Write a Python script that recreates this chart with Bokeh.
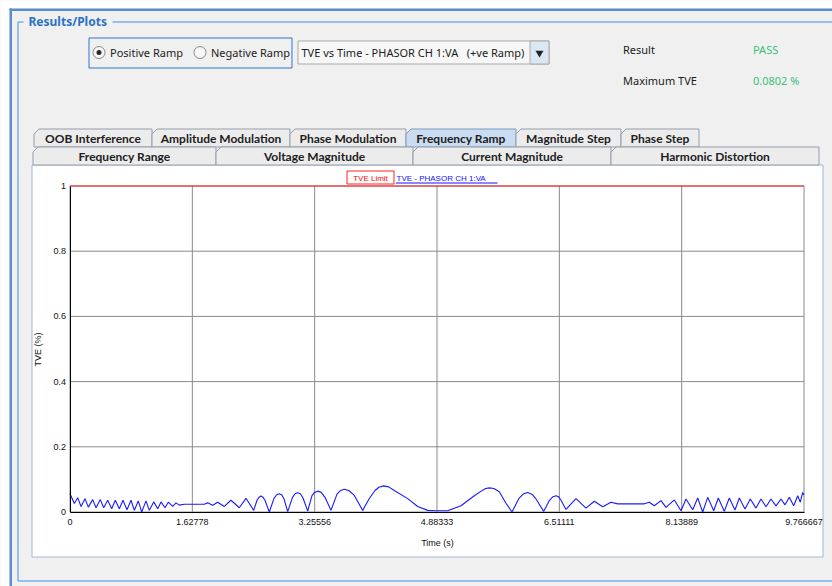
from bokeh.plotting import figure
from bokeh.models import Range1d, FixedTicker
from bokeh.core.properties import value
from bokeh.embed import file_html
from bokeh.resources import INLINE

# ---------------------------------------------------------------- data
# TVE of PHASOR CH 1:VA during the positive frequency ramp (percent)
time_s = [
    0.0, 0.0572, 0.1025, 0.1464, 0.1996, 0.2435, 0.3021, 0.3460, 0.4032, 0.4484,
    0.5016, 0.5549, 0.6028, 0.6560, 0.7052, 0.7584, 0.8117, 0.8556, 0.9088, 0.9540,
    1.0113, 1.0552, 1.1137, 1.1670, 1.2109, 1.2641, 1.3080, 1.3666, 1.4104, 1.4544,
    1.5209, 1.7870, 1.8322, 1.8988, 1.9653, 2.0531, 2.1423, 2.2527, 2.3419, 2.4443,
    2.4882, 2.5150, 2.5415, 2.5680, 2.5947, 2.6519, 2.7144, 2.7500, 2.7850, 2.8200,
    2.8475, 2.8968, 2.9606, 2.9950, 3.0298, 3.0650, 3.1003, 3.1629, 3.2201, 3.2550,
    3.2959, 3.3400, 3.3931, 3.4729, 3.5527, 3.6000, 3.6499, 3.7100, 3.7789, 3.8947,
    3.9785, 4.0584, 4.1100, 4.1741, 4.2400, 4.3152, 4.4935, 4.6265, 4.7596, 4.8700,
    5.0257, 5.2027, 5.3796, 5.4914, 5.5300, 5.5793, 5.6400, 5.7123, 5.8014, 5.8813,
    5.9744, 6.0300, 6.0902, 6.1500, 6.2006, 6.3031, 6.3803, 6.4200, 6.4667, 6.5000,
    6.5333, 6.5998, 6.7329, 6.8659, 6.9764, 7.0881, 7.1986, 7.2877, 7.6417, 7.7082,
    7.7747, 7.8639, 7.9304, 8.0409, 8.1300, 8.1966, 8.2857, 8.3522, 8.4188, 8.4853,
    8.5651, 8.6264, 8.7062, 8.7727, 8.8486, 8.9058, 8.9816, 9.0522, 9.1280, 9.1945,
    9.2610, 9.3276, 9.3941, 9.4606, 9.5139, 9.5711, 9.6297, 9.6829, 9.7175, 9.7494,
    9.7667,
]
tve_pct = [
    0.056, 0.026, 0.044, 0.017, 0.041, 0.015, 0.038, 0.013, 0.038, 0.013,
    0.036, 0.010, 0.036, 0.010, 0.036, 0.007, 0.036, 0.005, 0.034, 0.000,
    0.034, 0.005, 0.031, 0.010, 0.031, 0.013, 0.030, 0.017, 0.028, 0.021,
    0.024, 0.024, 0.028, 0.021, 0.030, 0.017, 0.036, 0.013, 0.042, 0.005,
    0.036, 0.045, 0.049, 0.045, 0.036, 0.000, 0.042, 0.053, 0.056, 0.052,
    0.040, 0.001, 0.045, 0.056, 0.059, 0.056, 0.043, 0.003, 0.050, 0.060,
    0.064, 0.061, 0.045, 0.005, 0.055, 0.066, 0.070, 0.066, 0.052, 0.005,
    0.040, 0.066, 0.076, 0.0802, 0.077, 0.066, 0.041, 0.017, 0.005, 0.004,
    0.004, 0.019, 0.050, 0.067, 0.072, 0.074, 0.072, 0.062, 0.027, 0.000,
    0.042, 0.055, 0.060, 0.054, 0.040, 0.002, 0.036, 0.046, 0.050, 0.047,
    0.036, 0.008, 0.041, 0.012, 0.033, 0.016, 0.030, 0.025, 0.025, 0.030,
    0.019, 0.035, 0.014, 0.037, 0.004, 0.040, 0.007, 0.043, 0.000, 0.045,
    0.004, 0.043, 0.002, 0.043, 0.006, 0.043, 0.009, 0.040, 0.012, 0.040,
    0.016, 0.040, 0.019, 0.040, 0.022, 0.045, 0.019, 0.050, 0.030, 0.060,
    0.052,
]
tve_limit = 1.0
series_names = ["TVE Limit", "TVE - PHASOR CH 1:VA"]

x_ticks = [0, 1.62778, 3.25556, 4.88333, 6.51111, 8.13889, 9.766667]
x_tick_labels = ["0", "1.62778", "3.25556", "4.88333", "6.51111", "8.13889", "9.766667"]
y_ticks = [0, 0.2, 0.4, 0.6, 0.8, 1.0]
y_tick_labels = ["0", "0.2", "0.4", "0.6", "0.8", "1"]

tabs_row1 = ["OOB Interference", "Amplitude Modulation", "Phase Modulation",
             "Frequency Ramp", "Magnitude Step", "Phase Step"]
tabs_row2 = ["Frequency Range", "Voltage Magnitude", "Current Magnitude", "Harmonic Distortion"]
selected_tab = "Frequency Ramp"
ramp_options = ["Positive Ramp", "Negative Ramp"]
plot_choice = "TVE vs Time - PHASOR CH 1:VA\u00a0\u00a0 (+ve Ramp)"
test_result = "PASS"

# ---------------------------------------------------------------- page geometry / styling
W, H = 832, 586
FX0, FX1 = 69.5, 803.5      # chart frame, left/right (page pixels)
FY1, FY0 = 185.5, 511.5     # chart frame, top/bottom (page pixels)

BG = "#f0f0f0"
OUTER_BLUE = "#5a8dd0"
GROUP_BLUE = "#3f8fe3"
PANEL_EDGE = "#a4b8d2"
TEXT = "#1b1b1b"
GREEN = "#3cbf7a"
GRID = "#8a8a8a"
UI_FONT = "Noto Sans"
TAB_FONT = "Lato"
CHART_FONT = "Liberation Sans"

# data ranges chosen so the chart occupies the frame box above, the rest of the
# canvas holds the window decorations (drawn on a pixel range pair "px")
kx = (x_ticks[-1] - x_ticks[0]) / (FX1 - FX0)
ky = tve_limit / (FY0 - FY1)
x_range = Range1d(x_ticks[0] - FX0 * kx, x_ticks[0] + (W - FX0) * kx)
y_range = Range1d(-(H - FY0) * ky, tve_limit + FY1 * ky)

p = figure(width=W, height=H, x_range=x_range, y_range=y_range, title=None,
           min_border=0, output_backend="svg", toolbar_location=None)
p.extra_x_ranges = {"px": Range1d(0, W)}
p.extra_y_ranges = {"px": Range1d(H, 0)}
p.outline_line_color = None
p.background_fill_color = BG
p.border_fill_color = BG
PX = dict(x_range_name="px", y_range_name="px")


def txt(x, y, s, size="11px", font=UI_FONT, color=TEXT, style="normal",
        align="left", baseline="middle"):
    p.text(x=[x], y=[y], text=[s], text_font=value(font), text_font_size=size,
           text_color=color, text_font_style=style, text_align=align,
           text_baseline=baseline, **PX)


def box(l, r, t, b, fill=None, line=None):
    p.quad(left=[l], right=[r], top=[t], bottom=[b], fill_color=fill,
           line_color=line, **PX)


def poly(xs, ys, color, width=1):
    p.line(x=xs, y=ys, line_color=color, line_width=width, **PX)


# ---------------------------------------------------------------- window decorations
box(0, W, 0, 8, fill="white")
box(0, 9, 0, H, fill="white")
box(9, W, 8, 10.5, fill=OUTER_BLUE)
box(9, 11.5, 8, H, fill=OUTER_BLUE)

# "Results/Plots" group box
poly([23, 17.5, 17.5, W], [21.5, 21.5, 580.5, 580.5], GROUP_BLUE)
poly([112, W], [21.5, 21.5], GROUP_BLUE)
txt(28, 21, "Results/Plots", size="12px", style="bold", color="#2a72c6")

# ramp selector
box(88.5, 291.5, 37.5, 67.5, line="#2f74cc")
for cx, label, on in [(98.5, ramp_options[0], True), (199.5, ramp_options[1], False)]:
    p.scatter(x=[cx], y=[52], marker="circle", size=12,
              fill_color="#f6f6f6", line_color="#8a8a8a", **PX)
    if on:
        p.scatter(x=[cx], y=[52], marker="circle", size=5,
                  fill_color="#2b2b2b", line_color=None, **PX)
    txt(cx + 11, 52, label)

# plot selector combo box
box(297.5, 548.5, 40.5, 63.5, fill="#f7f7f7", line="#a9a9a9")
box(529.5, 548.5, 40.5, 63.5, fill="#dce7f4", line="#a9a9a9")
p.scatter(x=[539], y=[52.5], marker="inverted_triangle", size=8,
          fill_color="#222222", line_color=None, **PX)
txt(301, 52, plot_choice, size="11px")

# result summary
txt(622.5, 49, "Result")
txt(752.5, 49, test_result, color=GREEN)
txt(622.5, 80, "Maximum TVE")
txt(752.5, 80, f"{max(tve_pct):.4f} %", color=GREEN)

# white plot panel
box(31.5, 822.5, 164.5, 556.5, fill="white", line=PANEL_EDGE)

# tab strip (two rows)
row1_edges = [33, 151, 289, 405, 515, 620, 698]
row2_edges = [32, 215, 412, 610, 818]


def draw_tabs(names, edges, top, bottom, text_y):
    for i, name in enumerate(names):
        x0, x1 = edges[i] + 0.5, edges[i + 1] + 0.5
        sel = name == selected_tab
        p.patch(x=[x0, x0, x0 + 5, x1, x1], y=[bottom, top + 5, top, top, bottom],
                fill_color="#c9dcf1" if sel else "#ececec",
                line_color="#7d9cc0" if sel else "#939ea9", **PX)
        txt((x0 + x1) / 2, text_y, name, size="12px", font=TAB_FONT,
            style="bold", align="center", color="#202020")


draw_tabs(tabs_row1, row1_edges, 128.5, 146.5, 137.5)
draw_tabs(tabs_row2, row2_edges, 146.5, 164.5, 155.5)

# legend
box(346.5, 393.5, 170.5, 183.5, line="#ff2020")
txt(370, 177.5, series_names[0], size="8px", font=CHART_FONT, color="#ff0000", align="center")
txt(396, 177.5, series_names[1], size="8px", font=CHART_FONT, color="#1010ff")
poly([395.5, 497], [182.5, 182.5], "#1010ff")

# ---------------------------------------------------------------- chart
p.xgrid.visible = False
p.ygrid.visible = False
p.segment(x0=x_ticks, x1=x_ticks, y0=[0] * len(x_ticks), y1=[tve_limit] * len(x_ticks),
          line_color=GRID, line_width=1)
p.segment(x0=[x_ticks[0]] * len(y_ticks), x1=[x_ticks[-1]] * len(y_ticks),
          y0=y_ticks, y1=y_ticks, line_color=GRID, line_width=1)

p.line(x=[time_s[0], time_s[-1]], y=[tve_limit, tve_limit], line_color="#ff2020", line_width=1)
p.line(x=time_s, y=tve_pct, line_color="#1a1aff", line_width=1.1)

xa, ya = p.xaxis[0], p.yaxis[0]
xa.fixed_location = 0
ya.fixed_location = x_ticks[0]
xa.bounds = (x_ticks[0], x_ticks[-1])
ya.bounds = (0, tve_limit)
xa.ticker = FixedTicker(ticks=x_ticks)
ya.ticker = FixedTicker(ticks=y_ticks)
xa.major_label_overrides = dict(zip(x_ticks, x_tick_labels))
ya.major_label_overrides = dict(zip(y_ticks, y_tick_labels))
xa.axis_label = "Time (s)"
ya.axis_label = "TVE (%)"
for ax in (xa, ya):
    ax.axis_line_color = "black"
    ax.axis_line_width = 1
    ax.major_tick_in = 0
    ax.major_tick_out = 0
    ax.minor_tick_line_color = None
    ax.major_label_text_font = CHART_FONT
    ax.major_label_text_font_size = "9px"
    ax.major_label_text_color = "#111111"
    ax.axis_label_text_font = CHART_FONT
    ax.axis_label_text_font_size = "9px"
    ax.axis_label_text_font_style = "normal"
    ax.axis_label_text_color = "#111111"
xa.major_label_standoff = 7
xa.axis_label_standoff = 9
ya.major_label_standoff = 4
ya.axis_label_standoff = 8

open("out.html", "w").write(file_html(p, INLINE))
